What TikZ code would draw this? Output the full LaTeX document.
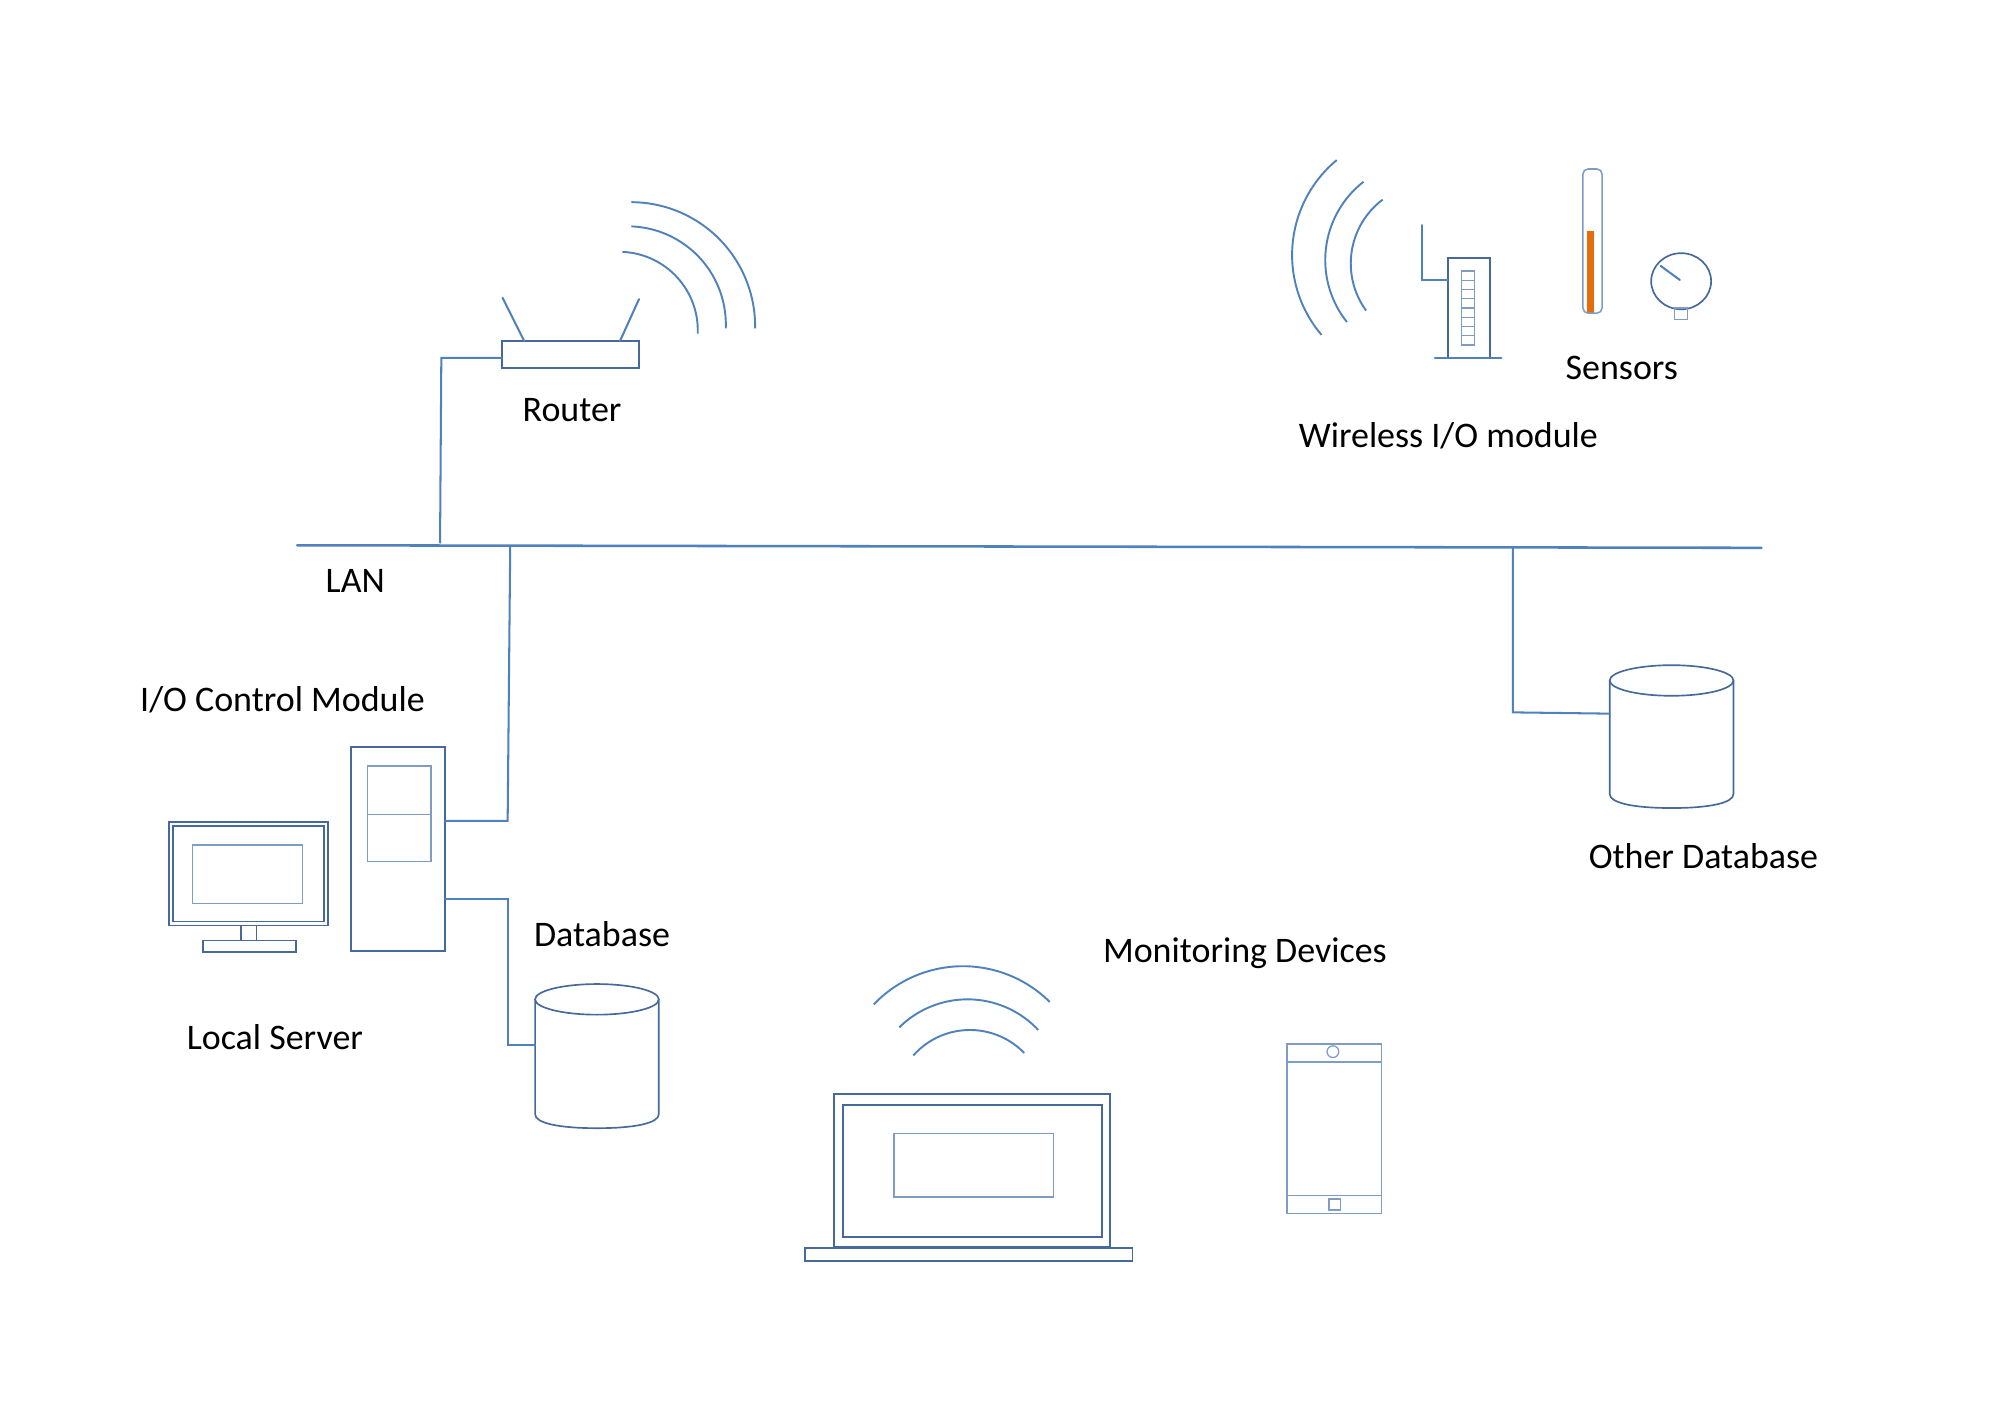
\documentclass[tikz,border=0pt]{standalone}
\usepackage{fontspec}
\setmainfont{Carlito}
\usetikzlibrary{calc}
\usetikzlibrary{shapes.geometric}
\definecolor{linkblue}{HTML}{4F81BD}
\definecolor{devblue}{HTML}{44699A}
\definecolor{paleblue}{HTML}{7F9CC4}
\definecolor{fillorange}{HTML}{E46C0A}
\tikzset{
  link/.style={draw=linkblue,line width=0.8pt,line cap=round,line join=miter},
  wave/.style={draw=linkblue,line width=0.75pt},
  dev/.style={rectangle,draw=devblue,line width=0.85pt,inner sep=0pt,outer sep=0pt},
  devthin/.style={rectangle,draw=devblue,line width=0.6pt,inner sep=0pt,outer sep=0pt},
  pale/.style={rectangle,draw=paleblue,line width=0.55pt,inner sep=0pt,outer sep=0pt},
  ghost/.style={rectangle,inner sep=0pt,outer sep=0pt},
  drumline/.style={draw=devblue,line width=0.65pt},
  lbl/.style={font=\fontsize{14.1}{17}\selectfont,text=black,inner sep=0pt}
}
\newcommand{\devbox}[6]{\node[#6,minimum width={(#4-#2)*0.5pt},minimum height={(#5-#3)*0.5pt}] (#1) at ({(#2+#4)/2},{(#3+#5)/2}) {};}
% circular arc through three points
\newcommand{\wavearc}[6]{%
  \pgfmathsetmacro{\mx}{(#3-#1)/100}\pgfmathsetmacro{\my}{(#4-#2)/100}%
  \pgfmathsetmacro{\bx}{(#5-#1)/100}\pgfmathsetmacro{\by}{(#6-#2)/100}%
  \pgfmathsetmacro{\dd}{2*(\mx*\by-\my*\bx)}%
  \pgfmathsetmacro{\mm}{\mx*\mx+\my*\my}\pgfmathsetmacro{\bb}{\bx*\bx+\by*\by}%
  \pgfmathsetmacro{\ux}{(\by*\mm-\my*\bb)/\dd}\pgfmathsetmacro{\uy}{(\mx*\bb-\bx*\mm)/\dd}%
  \pgfmathsetmacro{\rr}{100*sqrt(\ux*\ux+\uy*\uy)}%
  \pgfmathsetmacro{\aa}{atan2(-\uy,-\ux)}%
  \pgfmathsetmacro{\am}{atan2(\my-\uy,\mx-\ux)}%
  \pgfmathsetmacro{\ab}{atan2(\by-\uy,\bx-\ux)}%
  \pgfmathsetmacro{\dm}{Mod(\am-\aa,360)}\pgfmathsetmacro{\db}{Mod(\ab-\aa,360)}%
  \pgfmathsetmacro{\sweep}{\dm<\db ? \db : \db-360}%
  \draw[wave] (#1,#2) arc[start angle=\aa,delta angle=\sweep,radius=\rr];}
% drum: ghost node for anchors plus its outline
\newcommand{\drum}[5]{%
  \devbox{#1}{#2}{#3}{#4}{#5}{ghost}
  \pgfmathsetmacro{\cxx}{(#2+#4)/2}\pgfmathsetmacro{\rxx}{(#4-#2)/2}%
  \draw[drumline] (\cxx,#3+12) ellipse[x radius=\rxx,y radius=12];
  \draw[drumline] (#2,#3+12) -- (#2,#5-11) .. controls (#2,#5-4) and (\cxx-30,#5) .. (\cxx,#5)
     .. controls (\cxx+30,#5) and (#4,#5-4) .. (#4,#5-11) -- (#4,#3+12);}
\begin{document}
\begin{tikzpicture}[x=0.5pt,y=-0.5pt]
\useasboundingbox (0,-0.5) rectangle (1568,1105.7);

% LAN bus
\coordinate (lanL) at (233,427);
\coordinate (lanR) at (1381,429);
\draw[link,line width=1pt] (lanL) -- (lanR);

% Router
\devbox{router}{393.5}{267}{501}{288}{dev}
\coordinate (antA) at (394,233);
\coordinate (antB) at (501,234);
\coordinate (antAf) at (411,267);
\coordinate (antBf) at (486,267);
\draw[link] (antA) -- (antAf);
\draw[link] (antB) -- (antBf);
\coordinate (rB1) at (346,280);
\coordinate (rB2) at (345,425);
\draw[link] (router.west |- rB1) -- (rB1) -- (rB2);
\wavearc{495}{158}{564}{187}{592}{257}
\wavearc{495}{177}{547}{200}{569}{257}
\wavearc{488}{197}{530}{216}{547}{261}

% Wireless I/O module
\wavearc{1048}{125}{1013}{200}{1036}{262}
\wavearc{1069}{142}{1039}{205}{1056}{252}
\wavearc{1084}{156}{1059}{207}{1071}{243}
\devbox{wio}{1135}{202}{1168}{280}{dev}
\coordinate (wioTip) at (1115,176);
\coordinate (wioBend) at (1115,219);
\draw[link] (wioTip) -- (wioBend) -- (wio.west |- wioBend);
\coordinate (wioBaseL) at (1125,280);
\coordinate (wioBaseR) at (1177,280);
\draw[link] (wioBaseL) -- (wioBaseR);
\devbox{wioA}{1146}{212}{1156}{270}{pale}
\foreach \yy in {219.2,226.5,233.7,241,248.2,255.5,262.7}{\draw[paleblue,line width=0.5pt] (1146,\yy) -- (1156,\yy);}

% Sensors
\fill[fillorange] (1244,181) rectangle (1250,245);
\node[rectangle,draw=paleblue,line width=0.6pt,rounded corners=2pt,inner sep=0pt,outer sep=0pt,minimum width=7.5pt,minimum height=56.5pt] (thermo) at (1248.5,188.5) {};
\node[ellipse,draw=devblue,line width=0.65pt,inner sep=0pt,outer sep=0pt,minimum width=23.5pt,minimum height=22pt] (gauge) at (1318,220) {};
\coordinate (needleA) at (1302,208);
\coordinate (needleB) at (1317,219);
\draw[link] (needleA) -- (needleB);
\devbox{stem}{1313}{241}{1323}{250}{pale}

% Other database
\drum{otherdb}{1262}{521}{1359}{633}
\coordinate (oB1) at (1186,429);
\coordinate (oB2) at (1186,558);
\coordinate (oB3) at (1262,559);
\draw[link] (oB1) -- (oB2) -- (otherdb.west |- oB3);

% Local server
\devbox{tower}{275}{585}{349}{745}{dev}
\devbox{towerA}{288}{600}{338}{638}{pale}
\devbox{towerB}{288}{638}{338}{675}{pale}
\devbox{mon}{132.5}{644}{257}{725}{devthin}
\devbox{monB}{135.5}{647}{254}{722}{devthin}
\devbox{monS}{151}{662}{237}{708}{pale}
\devbox{neck}{189}{725}{201}{737}{devthin}
\devbox{base}{159}{737}{232}{746}{devthin}

% Database
\drum{db}{419.5}{771}{516.5}{884}
\coordinate (lB1) at (398,643);
\coordinate (lB2) at (400,428);
\draw[link] (tower.east |- lB1) -- (lB1) -- (lB2);
\coordinate (dB1) at (398,704);
\coordinate (dB2) at (398,819);
\draw[link] (tower.east |- dB1) -- (dB1) -- (dB2) -- (db.west |- dB2);

% Laptop
\wavearc{685}{787}{755}{757}{823}{785}
\wavearc{705}{805}{760}{783}{814}{807}
\wavearc{716}{827}{760}{807}{803}{825}
\devbox{lap}{654}{857}{870}{977}{dev}
\devbox{lapI}{661}{866}{864}{969}{dev}
\devbox{lapS}{701}{888}{826}{938}{pale}
\devbox{lapB}{631}{978}{888}{988}{devthin}

% Phone
\devbox{phone}{1009}{818}{1083}{951}{pale}
\coordinate (phT) at (1009,832);
\coordinate (phB) at (1009,937);
\draw[paleblue,line width=0.55pt] (phT) -- (phone.east |- phT);
\draw[paleblue,line width=0.55pt] (phB) -- (phone.east |- phB);
\node[circle,draw=paleblue,line width=0.5pt,inner sep=0pt,outer sep=0pt,minimum size=4.6pt] (cam) at (1045,824) {};
\devbox{homeb}{1042}{939.5}{1051}{948}{pale}

% Labels
\node[lbl] (tRouter) at (448.5,321) {Router};
\node[lbl] (tWireless) at (1135.5,341) {Wireless I/O module};
\node[lbl] (tSensors) at (1271.5,288) {Sensors};
\node[lbl] (tLan) at (278.5,455) {LAN};
\node[lbl] (tIo) at (221.5,548) {I/O Control Module};
\node[lbl] (tDb) at (472,732) {Database};
\node[lbl] (tLocal) at (215.5,813) {Local Server};
\node[lbl] (tOther) at (1335.5,671) {Other Database};
\node[lbl] (tMon) at (976,746.5) {Monitoring Devices};
\end{tikzpicture}
\end{document}
